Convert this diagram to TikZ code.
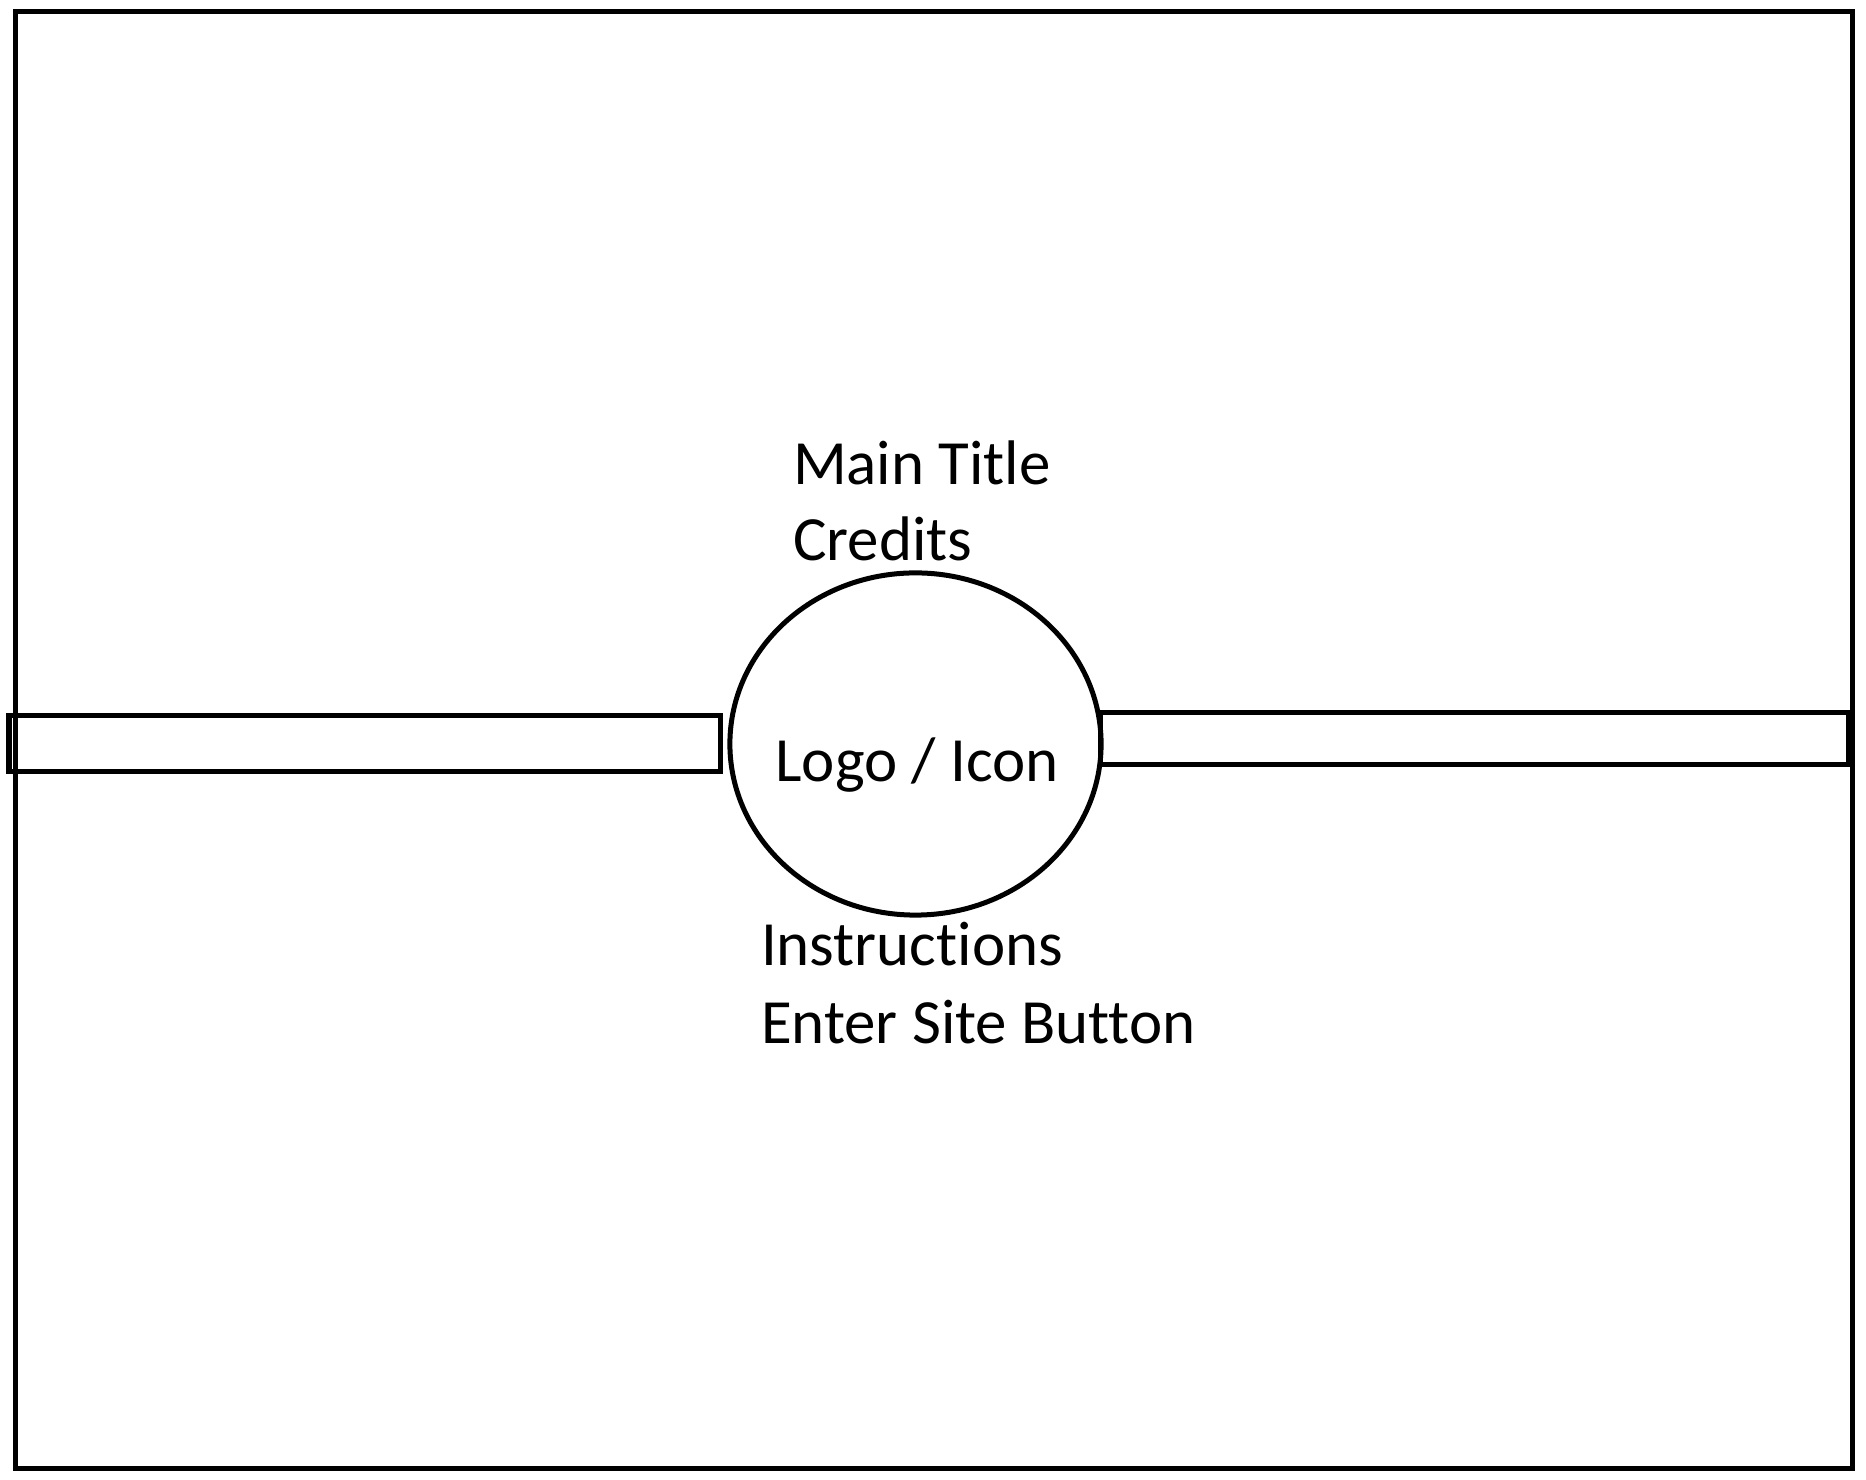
\documentclass[tikz,border=0pt]{standalone}
\usepackage{fontspec}
\setmainfont{Carlito}[Ligatures={NoCommon,NoRare,NoContextual}]
\usetikzlibrary{shapes.geometric}

\begin{document}
\begin{tikzpicture}[x=0.01cm,y=-0.01cm,line width=0.05cm,
    txt/.style={anchor=base west,inner sep=0pt,font=\fontsize{17.9pt}{21pt}\selectfont}]
    \useasboundingbox (0,0) rectangle (1866,1480);
    % page frame
    \draw (15.5,11.5) rectangle (1852.5,1468.5);
    % side bars
    \draw (9,716) rectangle (720.5,772);
    \draw (1100,713) rectangle (1848,764.5);
    % logo
    \node[draw,ellipse,inner sep=0pt,minimum width=3.71cm,minimum height=3.42cm] (logo) at (915.5,744) {};
    \node[txt,anchor=base] (icon) at (917,782) {Logo / Icon};
    \node[txt] (title) at (790.5,485) {Main Title};
    \node[txt] (credits) at (790.5,561) {Credits};
    \node[txt] (instr) at (758.5,966) {Instructions};
    \node[txt] (enter) at (758.5,1044) {Enter Site Button};
\end{tikzpicture}
\end{document}
